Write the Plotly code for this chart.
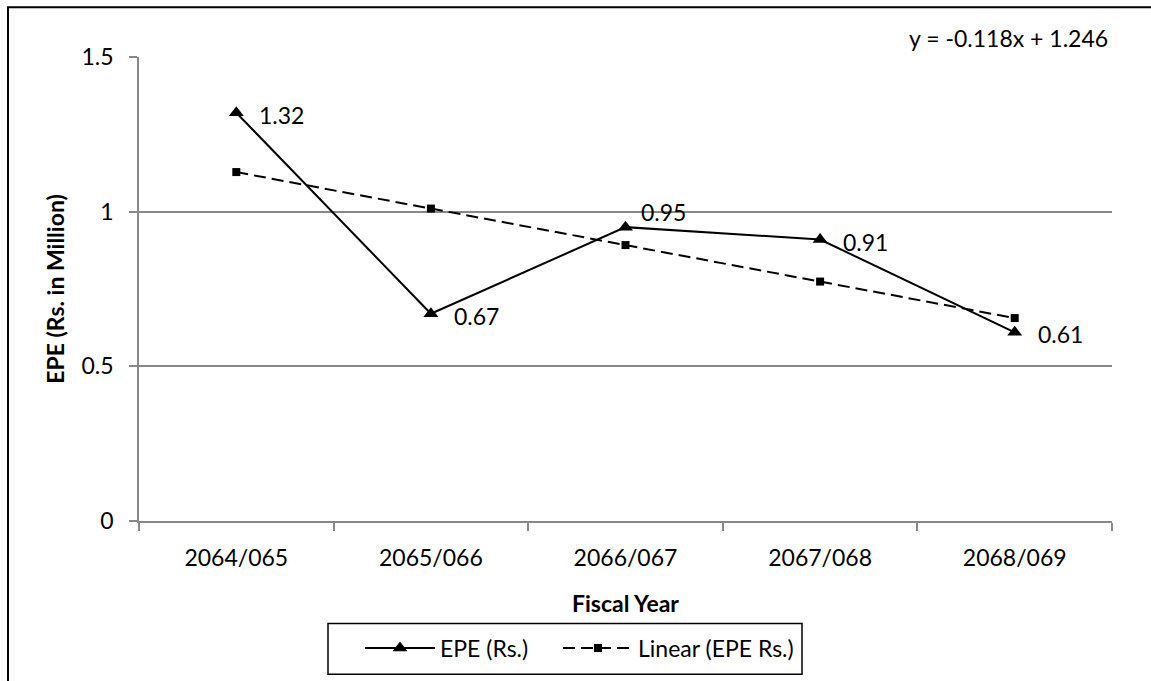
import plotly.graph_objects as go

categories = ["2064/065", "2065/066", "2066/067", "2067/068", "2068/069"]
epe_values = [1.32, 0.67, 0.95, 0.91, 0.61]
trend_values = [1.128, 1.010, 0.892, 0.774, 0.656]
label_texts = ["1.32", "0.67", "0.95", "0.91", "0.61"]
y_ticks = [0, 0.5, 1, 1.5]
y_ticktext = ["0", "0.5", "1", "1.5"]
equation_text = "y = -0.118x + 1.246"

W, H = 1151, 681
L, R, T, B = 139, 39, 57, 158
pw, ph = W - L - R, H - T - B


def px(x):
    return (x - L) / pw


def py(y):
    return (H - B - y) / ph


FONT = "Lato"
FS = 23
GRID = "#888888"

fig = go.Figure()
fig.add_trace(go.Scatter(
    x=categories, y=epe_values, name="EPE (Rs.)", mode="lines+markers",
    line=dict(color="black", width=2),
    marker=dict(symbol="triangle-up", size=13, color="black"),
    legend="legend",
))
fig.add_trace(go.Scatter(
    x=categories, y=trend_values, name="Linear (EPE Rs.)", mode="lines+markers",
    line=dict(color="black", width=2, dash="12px,6px"),
    marker=dict(symbol="square", size=8, color="black"),
    legend="legend2",
))

# data labels
shifts = [(21, -2), (21, -2), (13, 15), (21, -2), (21, -2)]
for c, v, t, (xs, ys) in zip(categories, epe_values, label_texts, shifts):
    fig.add_annotation(x=c, y=v, text=t, showarrow=False, xanchor="left",
                       yanchor="middle", xshift=xs, yshift=ys,
                       font=dict(family=FONT, size=FS, color="black"))

# equation
fig.add_annotation(x=px(1110), y=py(38), xref="paper", yref="paper",
                   text=equation_text, showarrow=False, xanchor="right",
                   yanchor="middle", font=dict(family=FONT, size=FS, color="black"))

# chart border
fig.add_shape(type="rect", xref="paper", yref="paper",
              x0=px(8), x1=px(1165), y0=py(695), y1=py(7),
              line=dict(color="black", width=2), fillcolor="rgba(0,0,0,0)")
# legend frame
fig.add_shape(type="rect", xref="paper", yref="paper",
              x0=px(328), x1=px(802), y0=py(677), y1=py(626),
              line=dict(color="black", width=1.5), fillcolor="rgba(0,0,0,0)")

legend_common = dict(orientation="h", yanchor="top", y=py(629), borderwidth=0,
                     font=dict(family=FONT, size=FS, color="black"),
                     itemwidth=70, bgcolor="rgba(0,0,0,0)")

fig.update_layout(
    width=W, height=H, autosize=False,
    margin=dict(l=L, r=R, t=T, b=B),
    paper_bgcolor="white", plot_bgcolor="white",
    font=dict(family=FONT, size=FS, color="black"),
    showlegend=True,
    legend=dict(x=px(360), xanchor="left", **legend_common),
    legend2=dict(x=px(558), xanchor="left", **legend_common),
    xaxis=dict(
        type="category", range=[-0.5, 4.5],
        showline=True, linecolor=GRID, linewidth=1.5,
        ticks="outside", tickson="boundaries", ticklen=8, tickcolor=GRID, tickwidth=1.5,
        showgrid=False, zeroline=False,
        ticklabelstandoff=16,
        title=dict(text="<b>Fiscal Year</b>", standoff=26,
                   font=dict(family=FONT, size=FS, color="black")),
    ),
    yaxis=dict(
        range=[0, 1.5], tickvals=y_ticks, ticktext=y_ticktext,
        showline=True, linecolor=GRID, linewidth=1.5,
        ticks="outside", ticklen=8, tickcolor=GRID, tickwidth=1.5,
        showgrid=True, gridcolor=GRID, gridwidth=1.5, zeroline=False,
        ticklabelstandoff=11,
        title=dict(text="<b>EPE (Rs. in Million)</b>", standoff=10,
                   font=dict(family=FONT, size=FS, color="black")),
    ),
)

fig.write_html("out.html")
